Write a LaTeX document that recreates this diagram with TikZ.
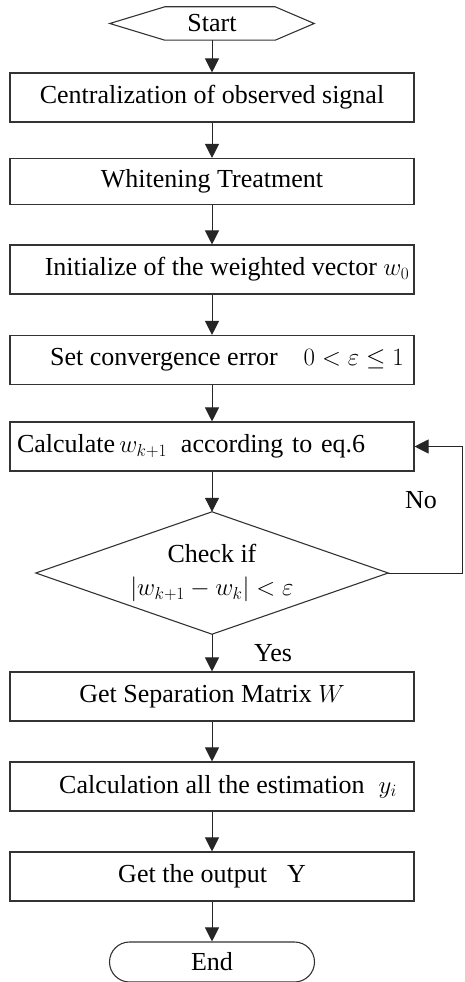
\documentclass[tikz,border=0pt]{standalone}
\usepackage{fontspec}
\setmainfont{Liberation Serif}
\usetikzlibrary{arrows.meta,shapes.misc}
\begin{document}
\begin{tikzpicture}[x=1pt,y=-1pt,
  every node/.style={font=\fontsize{26}{35}\selectfont},
  outline/.style={draw=black!80,line width=1.1pt},
  box/.style={outline,minimum width=404pt,minimum height=49pt,inner sep=0pt},
  leftbox/.style={outline,text width=390pt,inner xsep=7pt,inner ysep=0pt,minimum height=49pt,align=left},
  decision/.style={minimum width=352pt,minimum height=122pt,inner sep=0pt,align=center},
  terminal/.style={outline,rounded rectangle,minimum width=205pt,minimum height=40pt,inner sep=0pt},
  link/.style={draw=black!85,line width=1pt,-{Triangle[length=14pt,width=14pt]}},
  lbl/.style={inner sep=0pt}
]
\useasboundingbox (0,0) rectangle (464,982);

\node[minimum width=204pt,minimum height=33pt,inner sep=0pt] (start) at (212,23.5) {Start};
\draw[outline] (start.west) -- ([xshift=55pt]start.north west) -- ([xshift=-39pt]start.north east) -- (start.east) -- ([xshift=-39pt]start.south east) -- ([xshift=55pt]start.south west) -- cycle;

\node[box] (b1) at (212,97.5) {Centralization of observed signal};
\node[box,minimum height=46pt] (b2) at (212,181.5) {Whitening Treatment};
\node[box] (b3) at (212,269.5) {\hspace*{30pt}Initialize of the weighted vector $w_0$};
\node[box] (b4) at (212,360) {\hspace*{30pt}Set convergence error\hspace{26pt}$0<\varepsilon\leq 1$};
\node[leftbox] (b5) at (212,446.5) {Calculate$\,w_{k+1}$\hspace{14pt}according to eq.6};
\node[decision] (dia) at (212,573) {Check if\\[-2pt]$\left|w_{k+1}-w_k\right|<\varepsilon$};
\draw[outline] (dia.north) -- (dia.east) -- (dia.south) -- (dia.west) -- cycle;
\node[box] (b6) at (212,696.5) {Get Separation Matrix $W$};
\node[box] (b7) at (212,786.5) {\hspace*{32pt}Calculation all the estimation\hspace{14pt}$y_i$};
\node[box] (b8) at (212,876.5) {Get the output\hspace{20pt}Y};
\node[terminal] (end) at (212,962) {End};

\draw[link] (start.south) -- (b1.north);
\draw[link] (b1.south) -- (b2.north);
\draw[link] (b2.south) -- (b3.north);
\draw[link] (b3.south) -- (b4.north);
\draw[link] (b4.south) -- (b5.north);
\draw[link] (b5.south) -- (dia.north);
\draw[link] (dia.east) -- ++(74,0) |- (b5.east);
\draw[link] (dia.south) -- (b6.north);
\draw[link] (b6.south) -- (b7.north);
\draw[link] (b7.south) -- (b8.north);
\draw[link] (b8.south) -- (end.north);

\node[lbl] (no) at (421,500) {No};
\node[lbl] (yes) at (273,653) {Yes};
\end{tikzpicture}
\end{document}
